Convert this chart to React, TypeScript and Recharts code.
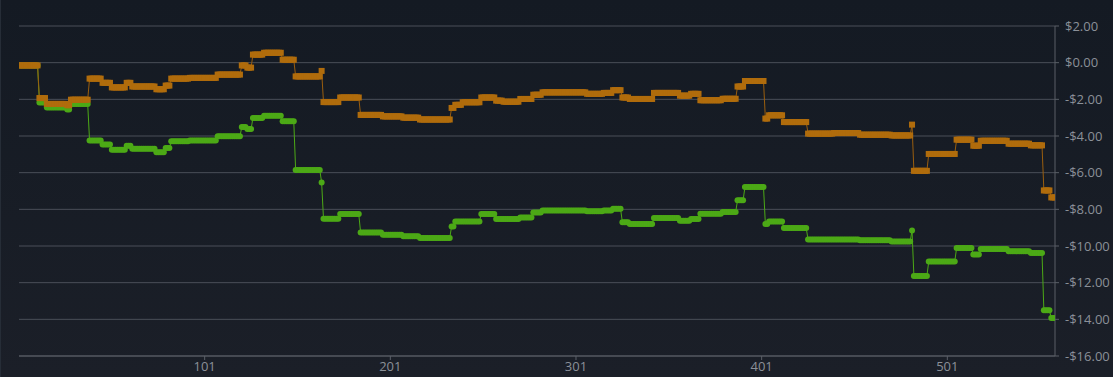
import { LineChart, Line, XAxis, YAxis, CartesianGrid } from 'recharts';

const POINTS = 559;

// first index of each plateau, shared by both series
const segStart = [
  1, 12, 16, 27, 29, 39, 46, 51, 59, 62, 75, 80, 83, 93, 108, 121, 124, 127, 133, 143,
  150, 164, 165, 174, 185, 197, 208, 217, 234, 236, 240, 250, 258, 262, 271, 278, 283, 307, 316, 321,
  326, 330, 343, 357, 363, 368, 380, 388, 392, 403, 405, 413, 426, 440, 454, 471, 482, 483, 491, 506,
  515, 519, 534, 546, 553, 557,
];

const orangeLevels = [
  -0.15, -1.93, -2.25, -2.32, -2.02, -0.87, -1.1, -1.35, -1.1, -1.3, -1.45, -1.25, -0.87, -0.83, -0.65, -0.15, -0.27, 0.44, 0.54, 0.16,
  -0.75, -0.45, -2.15, -1.9, -2.85, -2.93, -3.0, -3.1, -2.47, -2.3, -2.16, -1.9, -2.07, -2.13, -1.98, -1.75, -1.62, -1.7, -1.65, -1.5,
  -1.9, -1.98, -1.65, -1.8, -1.7, -2.05, -1.97, -1.3, -1.0, -3.05, -2.87, -3.24, -3.87, -3.84, -3.93, -3.97, -3.38, -5.9, -4.98, -4.2,
  -4.53, -4.26, -4.42, -4.51, -6.97, -7.35,
];

const greenLevels = [
  -0.15, -2.17, -2.45, -2.55, -2.25, -4.24, -4.47, -4.75, -4.53, -4.7, -4.88, -4.65, -4.29, -4.24, -4.02, -3.51, -3.62, -3.02, -2.9, -3.2,
  -5.85, -6.53, -8.51, -8.26, -9.26, -9.38, -9.47, -9.56, -8.93, -8.66, -8.66, -8.26, -8.53, -8.53, -8.44, -8.17, -8.06, -8.11, -8.06, -7.97,
  -8.71, -8.8, -8.47, -8.62, -8.53, -8.24, -8.15, -7.51, -6.78, -8.8, -8.66, -9.02, -9.65, -9.65, -9.69, -9.75, -9.15, -11.63, -10.85, -10.11,
  -10.47, -10.16, -10.29, -10.38, -13.51, -13.93,
];

const xTicks = [101, 201, 301, 401, 501];
const yTicks = [2, 0, -2, -4, -6, -8, -10, -12, -14, -16];

function levelAt(levels: number[], i: number) {
  let k = 0;
  while (k + 1 < segStart.length && segStart[k + 1] <= i) k++;
  return levels[k];
}

const data = Array.from({ length: POINTS }, (_, n) => {
  const i = n + 1;
  return { i, orange: levelAt(orangeLevels, i), green: levelAt(greenLevels, i) };
});

const money = (v: number) => (v < 0 ? '-$' : '$') + Math.abs(v).toFixed(2);

const tickStyle = { fontSize: 13, fill: '#8b9098', fontFamily: '"Open Sans", sans-serif' };

const OrangeDot = (props: any) => {
  const { cx, cy, index } = props;
  if (cx == null || cy == null) return <g key={`o-${index}`} />;
  return <rect key={`o-${index}`} x={cx - 3} y={cy - 3} width={6} height={6} fill="#b06c0c" />;
};

const GreenDot = (props: any) => {
  const { cx, cy, index } = props;
  if (cx == null || cy == null) return <g key={`g-${index}`} />;
  return <circle key={`g-${index}`} cx={cx} cy={cy} r={3} fill="#4ca916" />;
};

export default function App() {
  return (
    <div
      style={{
        width: 1113,
        height: 377,
        background: 'linear-gradient(#141a23, #1b1f28)',
        borderLeft: '1px solid #262d37',
        boxSizing: 'border-box',
      }}
    >
      <style>{'body{margin:0}'}</style>
      <LineChart width={1112} height={377} data={data} margin={{ top: 26, right: 0, left: 18, bottom: 0 }}>
        <CartesianGrid vertical={false} stroke="#4a4f58" />
        <XAxis
          dataKey="i"
          type="number"
          domain={[1, POINTS]}
          ticks={xTicks}
          tick={tickStyle}
          tickSize={4}
          height={21}
          stroke="#5a5f67"
          allowDataOverflow
        />
        <YAxis
          orientation="right"
          type="number"
          domain={[-16, 2]}
          ticks={yTicks}
          tickFormatter={money}
          tick={tickStyle}
          tickSize={4}
          tickMargin={6}
          width={58}
          stroke="#5a5f67"
          interval={0}
        />
        <Line
          type="linear"
          dataKey="green"
          stroke="#4ca916"
          strokeWidth={1}
          dot={GreenDot}
          activeDot={false}
          isAnimationActive={false}
        />
        <Line
          type="linear"
          dataKey="orange"
          stroke="#9a5e0e"
          strokeWidth={1}
          dot={OrangeDot}
          activeDot={false}
          isAnimationActive={false}
        />
      </LineChart>
    </div>
  );
}
